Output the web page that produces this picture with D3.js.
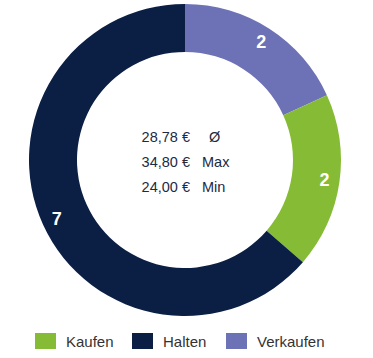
<!DOCTYPE html>
<html><head><meta charset="utf-8">
<script src="https://cdn.jsdelivr.net/npm/d3@7"></script>
<style>body{margin:0;background:#fff;}svg{display:block;font-family:"Liberation Sans",Arial,sans-serif;}</style>
</head><body>
<svg id="c" width="373" height="358"></svg>
<script>
const categories = ["Verkaufen", "Kaufen", "Halten"];
const values = [2, 2, 7];
const colors = ["#6d72b6", "#86bc35", "#0b1f45"];
const legendOrder = ["Kaufen", "Halten", "Verkaufen"];
const statValues = ["28,78 €", "34,80 €", "24,00 €"];
const statLabels = ["Ø", "Max", "Min"];

const svg = d3.select("#c");
const cx = 185, cy = 160, rOuter = 156, rInner = 108;
const color = d3.scaleOrdinal().domain(categories).range(colors);
const pie = d3.pie().sort(null).value(d => d.v);
const data = pie(categories.map((c, i) => ({c, v: values[i]})));
const arc = d3.arc().innerRadius(rInner).outerRadius(rOuter);
const g = svg.append("g").attr("transform", `translate(${cx},${cy})`);
g.selectAll("path").data(data).join("path").attr("d", arc).attr("fill", d => color(d.data.c));
const labelArc = d3.arc().innerRadius(141).outerRadius(141);
g.selectAll("text.lbl").data(data).join("text").attr("class","lbl")
  .attr("transform", d => `translate(${labelArc.centroid(d)})`)
  .attr("text-anchor","middle").attr("dy","0.35em")
  .attr("fill","#fff").attr("font-weight","bold").attr("font-size",18)
  .text(d => d.data.v);

const rows = svg.append("g");
statValues.forEach((v, i) => {
  rows.append("text").attr("x", 190).attr("y", 141.5 + i * 25).attr("text-anchor","end")
    .attr("font-size",14.5).attr("fill","#1c2a44").text(v);
  rows.append("text").attr("x", i === 0 ? 209 : 202).attr("y", 141.5 + i * 25)
    .attr("font-size",14.5).attr("fill","#1c2a44").text(statLabels[i]);
});

const lx = [35, 132, 226];
const leg = svg.append("g");
legendOrder.forEach((c, i) => {
  leg.append("rect").attr("x", lx[i]).attr("y", 333).attr("width", 21).attr("height", 16).attr("fill", color(c));
  leg.append("text").attr("x", lx[i] + 31).attr("y", 347).attr("font-size",15).attr("fill","#333").text(c);
});
</script>
</body></html>
